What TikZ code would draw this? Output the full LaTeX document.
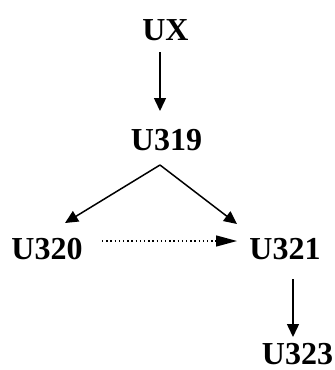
\documentclass[tikz,border=0pt]{standalone}
\usepackage{fontspec}
\setmainfont{Liberation Serif}
\usetikzlibrary{arrows.meta}
\tikzset{
  lbl/.style={anchor=base,inner sep=0pt,font=\fontsize{32}{32}\selectfont\bfseries},
  arr/.style={line width=1.5pt,-{Triangle[length=13pt,width=12pt]}},
  dotarr/.style={line width=1.3pt,dash pattern=on 1.3pt off 2.9pt,-{Triangle[length=21pt,width=11pt]}}
}
\begin{document}
\begin{tikzpicture}[x=1pt,y=-1pt]
\useasboundingbox (0,0) rectangle (335,370);
\node[lbl] (UX) at (165.5,40) {UX};
\node[lbl] (U319) at (166.5,150) {U319};
\node[lbl] (U320) at (47,259) {U320};
\node[lbl] (U321) at (285,259) {U321};
\node[lbl] (U323) at (297.5,364) {U323};
\draw[arr] ([xshift=-5.5pt,yshift=-12pt]UX.base) -- ([xshift=-6.5pt,yshift=39pt]U319.base);
\draw[arr] ([xshift=-6.5pt,yshift=-15pt]U319.base) -- ([xshift=18pt,yshift=36pt]U320.base);
\draw[arr] ([xshift=-6.5pt,yshift=-15pt]U319.base) -- ([xshift=-48pt,yshift=35pt]U321.base);
\draw[dotarr] ([xshift=55pt,yshift=18pt]U320.base) -- ([xshift=-48pt,yshift=18pt]U321.base);
\draw[arr] ([xshift=8pt,yshift=-20pt]U321.base) -- ([xshift=-4.5pt,yshift=27pt]U323.base);
\end{tikzpicture}
\end{document}
